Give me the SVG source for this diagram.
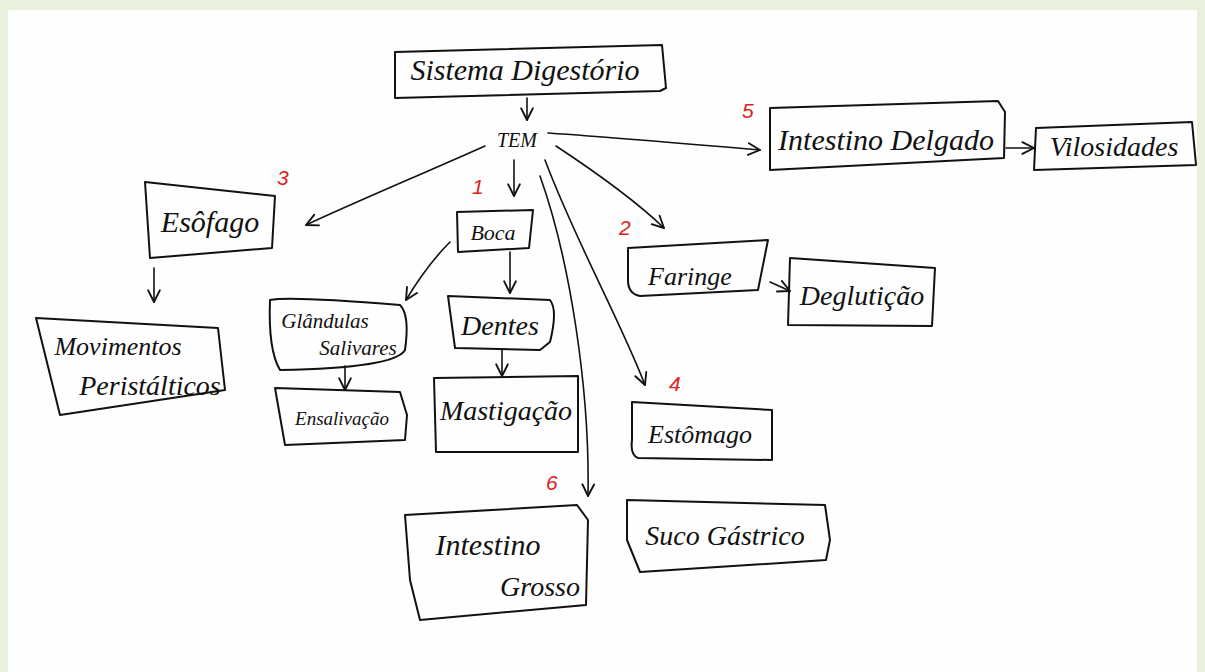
<svg xmlns="http://www.w3.org/2000/svg" width="1205" height="672" viewBox="0 0 1205 672">
<defs>
<marker id="ah" viewBox="0 0 12 12" refX="11" refY="6" markerWidth="14" markerHeight="14" markerUnits="userSpaceOnUse" orient="auto">
<path d="M1,1 L11,6 L1,11" fill="none" stroke="#111" stroke-width="1.6" stroke-linecap="round" stroke-linejoin="round"/>
</marker>
<style>
.box{fill:none;stroke:#111;stroke-width:2;stroke-linejoin:round;stroke-linecap:round}
.t{font-family:"Liberation Serif",serif;font-style:italic;fill:#111;text-anchor:middle}
.num{font-family:"Liberation Sans",sans-serif;font-style:italic;fill:#e0201c;font-size:21px}
.c{fill:none;stroke:#111;stroke-width:1.6;stroke-linecap:round;marker-end:url(#ah)}
</style>
</defs>
<rect width="1205" height="672" fill="#e9f1de"/>
<rect x="8" y="10" width="1189" height="662" fill="#fefefe"/>

<g id="connectors">
<path class="c" d="M527,98 L527,120"/>
<path class="c" d="M485,146 C420,175 360,200 306,225"/>
<path class="c" d="M514,160 L514,196"/>
<path class="c" d="M548,133 C620,138 690,144 760,150"/>
<path class="c" d="M556,146 C600,175 640,205 664,228"/>
<path class="c" d="M545,160 C575,240 620,320 645,385"/>
<path class="c" d="M540,176 C570,260 590,390 588,496"/>
<path class="c" d="M154,268 L154,302"/>
<path class="c" d="M450,242 C430,262 418,280 406,300"/>
<path class="c" d="M510,252 L510,293"/>
<path class="c" d="M345,366 L345,390"/>
<path class="c" d="M502,350 L502,376"/>
<path class="c" d="M770,282 L790,291"/>
<path class="c" d="M1006,148 L1034,148"/>
</g>

<g id="n-sistema">
<path class="box" d="M395,52 L662,45 L666,88 L660,91 L395,98 Z"/>
<text class="t" x="525" y="80" font-size="30">Sistema Digestório</text>
</g>
<g id="n-tem">
<text class="t" x="517" y="147" font-size="20">TEM</text>
</g>
<g id="n-delgado">
<path class="box" d="M770,108 L998,101 L1005,112 L1004,158 L770,170 Z"/>
<text class="t" x="886" y="150" font-size="30">Intestino Delgado</text>
<text class="num" x="742" y="118">5</text>
</g>
<g id="n-vilosidades">
<path class="box" d="M1036,128 L1192,122 L1196,165 L1034,170 Z"/>
<text class="t" x="1114" y="156" font-size="28">Vilosidades</text>
</g>
<g id="n-esofago">
<path class="box" d="M145,182 L275,196 L272,248 L150,258 Z"/>
<text class="t" x="210" y="232" font-size="30">Esôfago</text>
<text class="num" x="277" y="185">3</text>
</g>
<g id="n-movimentos">
<path class="box" d="M36,318 L218,328 L225,390 L60,415 Z"/>
<text class="t" x="118" y="355" font-size="26">Movimentos</text>
<text class="t" x="150" y="395" font-size="28">Peristálticos</text>
</g>
<g id="n-boca">
<path class="box" d="M457,212 L533,210 L529,248 L458,252 Z"/>
<text class="t" x="493" y="240" font-size="22">Boca</text>
<text class="num" x="472" y="194">1</text>
</g>
<g id="n-glandulas">
<path class="box" d="M270,300 Q290,296 400,305 Q410,315 405,350 Q395,368 280,370 Q268,350 270,300 Z"/>
<text class="t" x="325" y="328" font-size="21">Glândulas</text>
<text class="t" x="358" y="355" font-size="21">Salivares</text>
</g>
<g id="n-ensalivacao">
<path class="box" d="M275,388 L400,392 L407,415 L405,440 L285,445 Z"/>
<text class="t" x="342" y="425" font-size="19">Ensalivação</text>
</g>
<g id="n-dentes">
<path class="box" d="M448,296 L550,300 Q558,310 550,342 L540,350 L455,348 Z"/>
<text class="t" x="500" y="335" font-size="28">Dentes</text>
</g>
<g id="n-mastigacao">
<path class="box" d="M434,378 L578,376 L578,452 L436,452 Z"/>
<text class="t" x="506" y="420" font-size="28">Mastigação</text>
</g>
<g id="n-faringe">
<path class="box" d="M628,248 L768,240 L758,290 L640,296 Q628,294 628,280 Z"/>
<text class="t" x="690" y="285" font-size="26">Faringe</text>
<text class="num" x="619" y="235">2</text>
</g>
<g id="n-deglutica">
<path class="box" d="M790,258 L935,268 L932,326 L788,325 Z"/>
<text class="t" x="862" y="305" font-size="28">Deglutição</text>
</g>
<g id="n-estomago">
<path class="box" d="M632,402 L772,410 L772,460 L638,458 Q630,455 632,440 Z"/>
<text class="t" x="700" y="443" font-size="26">Estômago</text>
<text class="num" x="669" y="391">4</text>
</g>
<g id="n-suco">
<path class="box" d="M627,500 L825,505 L830,540 L826,560 L640,572 L627,540 Z"/>
<text class="t" x="725" y="545" font-size="28">Suco Gástrico</text>
</g>
<g id="n-grosso">
<path class="box" d="M405,515 L577,505 L588,520 L586,605 L420,620 L410,580 Z"/>
<text class="t" x="488" y="555" font-size="30">Intestino</text>
<text class="t" x="540" y="596" font-size="28">Grosso</text>
<text class="num" x="546" y="490">6</text>
</g>
</svg>
